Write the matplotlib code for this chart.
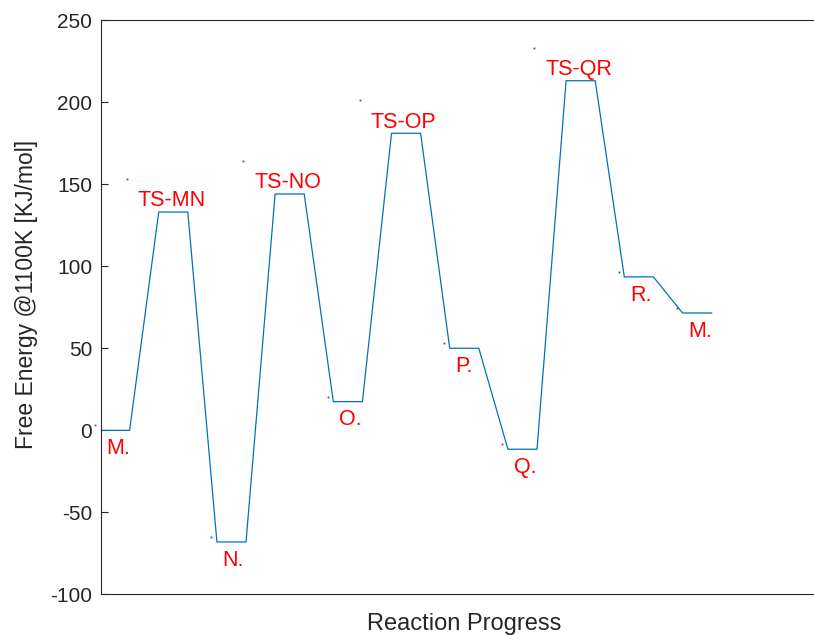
import numpy as np
import matplotlib.pyplot as plt

plt.rcParams['font.family'] = ['Liberation Sans', 'DejaVu Sans']
plt.rcParams['axes.unicode_minus'] = False

# free energy of each state along the path (kJ/mol @1100K)
states = ['M.', 'TS-MN', 'N.', 'TS-NO', 'O.', 'TS-OP', 'P.', 'Q.', 'TS-QR', 'R.', 'M.']
energy = [0, 133, -68, 144, 17.5, 181, 50, -11.5, 213, 93.5, 71.5]

fig = plt.figure(figsize=(8.14, 6.35), dpi=100)
ax = fig.add_axes([0.1235, 0.0638, 0.8937, 0.9047])

# each state gets a flat segment one unit wide, joined by sloped lines
xs, ys = [], []
for i, e in enumerate(energy):
    xs += [2 * i, 2 * i + 1]
    ys += [e, e]
ax.plot(xs, ys, color='#0072BD', lw=0.9)

dark = '#262626'
for i, (name, e) in enumerate(zip(states, energy)):
    x0 = 2 * i
    if name.startswith('TS'):
        ax.text(x0 - 0.72, e + 3.5, name, color='red', fontsize=15.5,
                ha='left', va='baseline')
        ax.plot(x0 - 1.1, e + 20, 's', ms=1.3, color='#555555', mew=0, clip_on=False)
    else:
        ax.text(x0 + 0.2, e - 14.5, name, color='red', fontsize=15.5,
                ha='left', va='baseline')
        ax.plot(x0 - 0.19, e + 3, 's', ms=1.3, color='#555555', mew=0, clip_on=False)

ax.set_xlim(0, 25)
ax.set_ylim(-100, 250)
ax.set_yticks(np.arange(-100, 251, 50))
ax.set_xticks([])
ax.tick_params(axis='y', direction='in', length=5, width=0.8, colors=dark,
               labelsize=15, pad=6)
for s in ax.spines.values():
    s.set_color(dark)
    s.set_linewidth(0.8)

ax.set_ylabel('Free Energy @1100K [KJ/mol]', fontsize=16.5, color=dark)
ax.yaxis.set_label_coords(-0.086, 0.523)
ax.set_xlabel('Reaction Progress', fontsize=17, color=dark, labelpad=13)

fig.savefig('out.png', dpi=100)
